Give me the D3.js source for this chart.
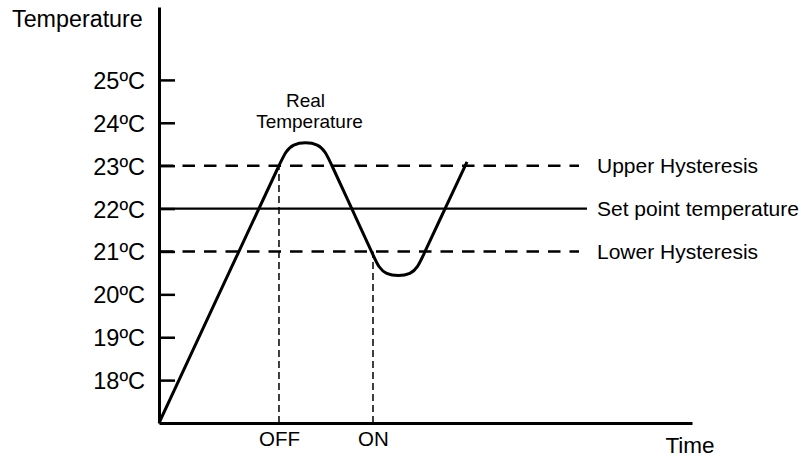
<!DOCTYPE html>
<html>
<head>
<meta charset="utf-8">
<script src="https://cdn.jsdelivr.net/npm/d3@7"></script>
<style>
  html, body { margin: 0; padding: 0; background: #fff; }
  svg { display: block; }
  text { font-family: "Liberation Sans", Arial, sans-serif; fill: #000; }
</style>
</head>
<body>
<svg id="chart" width="801" height="457"></svg>
<script>
// ---- data ----
const tempTicks = [18, 19, 20, 21, 22, 23, 24, 25];
const tempTickLabels = ["18ºC", "19ºC", "20ºC", "21ºC", "22ºC", "23ºC", "24ºC", "25ºC"];
// real temperature trace (time units, °C) – control points of the rounded trace
const realTime = [0, 16.85, 23.00, 24.58, 30.39, 31.97, 38.01, 40.45, 42.03, 47.75, 49.32, 53.56, 57.79];
const realTemp = [17.0, 21.50, 23.13, 23.55, 23.55, 23.13, 21.50, 20.84, 20.42, 20.42, 20.84, 21.97, 23.09];
const refNames = ["Upper Hysteresis", "Set point temperature", "Lower Hysteresis"];
const refValues = [23, 22, 21];
const refDashed = [true, false, true];
const eventNames = ["OFF", "ON"];
const eventTimes = [22.51, 40.15];
const eventTemps = [23, 21];

// ---- layout ----
const svg = d3.select("#chart");
const x = d3.scaleLinear().domain([0, 100]).range([159, 692]);
const y = d3.scaleLinear().domain([17, 26.7]).range([423, 7]);
const x0 = x(0), y0 = y(17);

// reference horizontal lines
refValues.forEach((v, i) => {
  svg.append("line")
    .attr("x1", refDashed[i] ? x0 + 2 : x0)
    .attr("x2", refDashed[i] ? 579 : 587)
    .attr("y1", y(v)).attr("y2", y(v))
    .attr("stroke", "#000")
    .attr("stroke-width", refDashed[i] ? 2.6 : 2.2)
    .attr("stroke-dasharray", refDashed[i] ? "12.5,9" : null);
  svg.append("text")
    .attr("x", 597).attr("y", y(v) + 7.5)
    .attr("font-size", 21)
    .text(refNames[i]);
});

// event vertical dashed lines
eventTimes.forEach((t, i) => {
  svg.append("line")
    .attr("x1", x(t)).attr("x2", x(t))
    .attr("y1", y0).attr("y2", y(eventTemps[i]))
    .attr("stroke", "#000")
    .attr("stroke-width", 1.5)
    .attr("stroke-dasharray", "7,4");
});

// real temperature trace
const pts = realTime.map((t, i) => [t, realTemp[i]]);
svg.append("path")
  .datum(pts)
  .attr("fill", "none")
  .attr("stroke", "#000")
  .attr("stroke-width", 3)
  .attr("stroke-linejoin", "round")
  .attr("d", d3.line().x(d => x(d[0])).y(d => y(d[1])).curve(d3.curveBasis));

// y axis
const yAxis = d3.axisLeft(y)
  .tickValues(tempTicks)
  .tickFormat((d, i) => tempTickLabels[i])
  .tickSize(-16)
  .tickSizeOuter(0)
  .tickPadding(14);
const gy = svg.append("g").attr("transform", `translate(${x0},0)`).call(yAxis);
gy.select(".domain").attr("stroke", "#000").attr("stroke-width", 3);
gy.selectAll(".tick line").attr("stroke", "#000").attr("stroke-width", 2.5);
gy.selectAll(".tick text")
  .attr("font-family", "Liberation Sans, Arial, sans-serif")
  .attr("font-size", 23.5)
  .attr("fill", "#000")
  .attr("dy", "0.36em");

// x axis
const xAxis = d3.axisBottom(x)
  .tickValues(eventTimes)
  .tickFormat((d, i) => eventNames[i])
  .tickSize(0)
  .tickSizeOuter(0)
  .tickPadding(8);
const gx = svg.append("g").attr("transform", `translate(0,${y0})`).call(xAxis);
gx.select(".domain").attr("stroke", "#000").attr("stroke-width", 3);
gx.selectAll(".tick text")
  .attr("font-family", "Liberation Sans, Arial, sans-serif")
  .attr("font-size", 20.5)
  .attr("fill", "#000");

// axis titles
svg.append("text").attr("x", 12).attr("y", 27).attr("font-size", 23.3).text("Temperature");
svg.append("text").attr("x", 690).attr("y", 453).attr("text-anchor", "middle").attr("font-size", 22.5).text("Time");

// curve label
svg.append("text").attr("x", 305.5).attr("y", 107).attr("text-anchor", "middle").attr("font-size", 19).text("Real");
svg.append("text").attr("x", 309.5).attr("y", 128).attr("text-anchor", "middle").attr("font-size", 19).text("Temperature");
</script>
</body>
</html>
